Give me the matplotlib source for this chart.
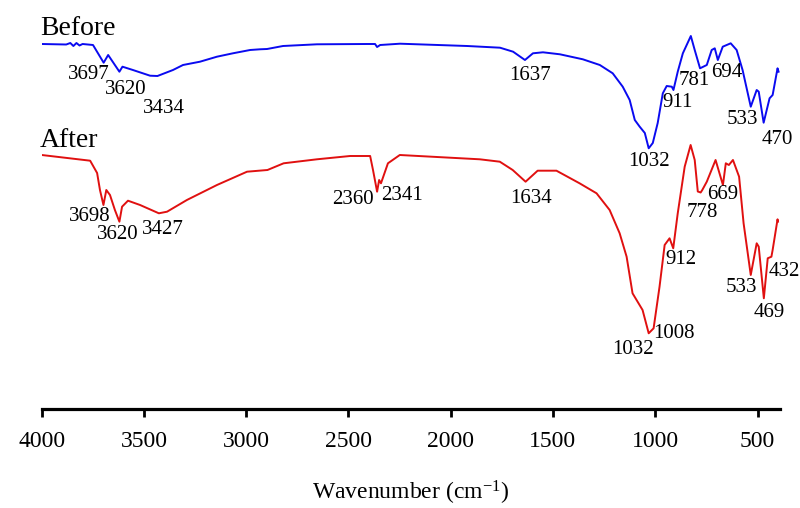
import matplotlib
matplotlib.use("Agg")
import matplotlib.pyplot as plt

plt.rcParams['font.family'] = ['Liberation Serif', 'DejaVu Serif']
plt.rcParams['mathtext.fontset'] = 'custom'
plt.rcParams['mathtext.rm'] = 'Liberation Serif'
plt.rcParams['mathtext.it'] = 'Liberation Serif:italic'

# FTIR spectra (transmittance, arbitrary offset units)
before_wn = [4000, 3880, 3860, 3845, 3830, 3815, 3800, 3749, 3697, 3675, 3620, 3605,
             3554, 3470, 3434, 3358, 3309, 3226, 3143, 3065, 2981, 2933, 2898, 2820,
             2654, 2409, 2370, 2360, 2345, 2248, 1920, 1759, 1695, 1637, 1598, 1549,
             1466, 1354, 1271, 1208, 1159, 1125, 1100, 1076, 1051, 1032, 1012, 988, 963,
             944, 919, 911, 890, 865, 826, 807, 781, 748, 724, 709, 694, 670, 631, 602,
             573, 533, 504, 494, 470, 441, 426, 402, 397]
before_t = [365, 364.5, 366, 363, 366, 363.5, 365, 364, 346.3, 354, 337.3, 342.3,
            339, 333.3, 333, 339, 344, 347.3, 352.3, 355.7, 359, 359.7, 360, 363,
            364.7, 365, 365, 362, 364, 365.3, 363, 361.3, 357.3, 349, 355.7, 356.7,
            354.7, 349.7, 344, 335.7, 322.3, 309, 289, 282.3, 276, 260.7, 266, 286, 315.7,
            323, 322.3, 319, 337.3, 355.7, 373, 359, 340.7, 344, 359, 360.7, 349, 362.3,
            365.7, 359, 339, 302.3, 319, 317.3, 286.3, 310.7, 314, 340.7, 337.3]

after_wn = [4000, 3763, 3729, 3715, 3698, 3684, 3666, 3642, 3620, 3607, 3578, 3519,
            3427, 3387, 3290, 3143, 2996, 2896, 2817, 2654, 2492, 2394, 2380, 2360,
            2350, 2341, 2307, 2249, 1858, 1760, 1697, 1634, 1575, 1483, 1370, 1287,
            1223, 1174, 1140, 1111, 1062, 1032, 1008, 979, 954, 930, 912, 890, 856,
            827, 807, 792, 778, 770, 748, 705, 669, 655, 640, 620, 590, 568, 533,
            504, 494, 469, 450, 432, 426, 402, 400]
after_t = [254, 248.3, 236, 219, 204, 219, 214, 199, 187.3, 202.3, 208.3, 204,
           195.7, 197.3, 209, 224, 237.3, 239, 245.7, 249.7, 253, 253, 239, 217.3,
           229, 225.7, 245.7, 254, 249.7, 247.3, 239, 227.3, 238.3, 238.3, 225.7, 215.7,
           199, 175.7, 152.3, 115.7, 99, 75.7, 80.7, 122.3, 164, 170.7, 160.7, 195.7, 242.3,
           264, 249, 217.5, 216.5, 219, 227.3, 249, 224, 245.7, 244, 249, 232.3, 185.7, 134,
           165.7, 162.3, 110.7, 150.7, 152.3, 159, 189.7, 187.3]

before_peaks = [3697, 3620, 3434, 1637, 1032, 911, 781, 694, 533, 470]
after_peaks = [3698, 3620, 3427, 2360, 2341, 1634, 1032, 1008, 912, 778, 669, 533, 469, 432]

# where each peak number is written
before_lbl_xy = [(3770, 334), (3588, 319.5), (3402, 300.5), (1612, 333.5), (1033, 247.5),
                 (889, 306.5), (810, 328.5), (651, 336.5), (573, 289), (404, 269.5)]
after_lbl_xy = [(3766, 192), (3629, 174), (3407, 179), (2478, 209), (2238, 213),
                (1607, 210.5), (1108, 59), (908, 75), (876, 149.5), (771, 196.5),
                (671, 214), (580, 121.5), (443, 96), (370, 137.5)]

fig = plt.figure(figsize=(8, 5.08), dpi=100)
ax = fig.add_axes([0.0521, 0.1949, 0.9229, 0.8051])

ax.plot(before_wn, before_t, color='#0a0af0', lw=1.4)
ax.plot(after_wn, after_t, color='#e01010', lw=1.4)

for p, (x, y) in zip(before_peaks, before_lbl_xy):
    ax.text(x, y, str(p), fontsize=15, ha='center', va='center')
for p, (x, y) in zip(after_peaks, after_lbl_xy):
    ax.text(x, y, str(p), fontsize=15, ha='center', va='center')

ax.text(4008, 374, 'Before', fontsize=20, ha='left', va='baseline')
ax.text(4008, 262, 'After', fontsize=20, ha='left', va='baseline')

ax.set_xlim(4000, 390)
ax.set_ylim(0, 409)
ax.set_xticks([4000, 3500, 3000, 2500, 2000, 1500, 1000, 500])
ax.set_yticks([])
for s in ['left', 'right', 'top']:
    ax.spines[s].set_visible(False)
ax.spines['bottom'].set_linewidth(2.3)
ax.tick_params(axis='x', direction='out', length=6, width=2, pad=10, labelsize=17)
ax.set_xlabel('Wavenumber (cm$^{\\mathregular{-1}}$)', fontsize=17, labelpad=19)

fig.savefig('out.png', dpi=100)
